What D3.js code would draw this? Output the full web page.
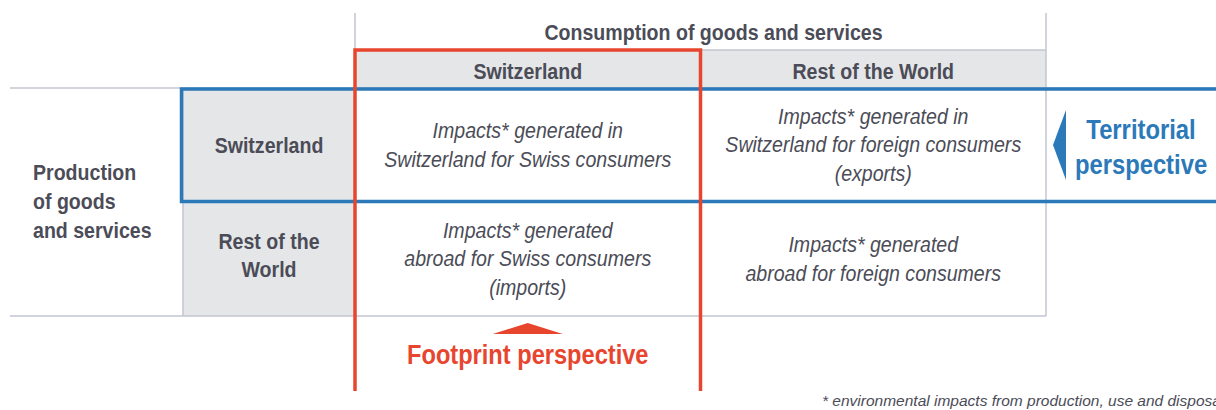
<!DOCTYPE html>
<html>
<head>
<meta charset="utf-8">
<script src="https://cdn.jsdelivr.net/npm/d3@7"></script>
<style>
  body { margin: 0; background: #fff; }
  svg { display: block; }
</style>
</head>
<body>
<script>
// Width and Height
var w = 1216;
var h = 410;

// data
var columns = ["Switzerland", "Rest of the World"];
var rows = ["Switzerland", "Rest of the World"];
var rowLabels = [["Switzerland"], ["Rest of the", "World"]];
var cellLines = [
  [["Impacts* generated in", "Switzerland for Swiss consumers"],
   ["Impacts* generated in", "Switzerland for foreign consumers", "(exports)"]],
  [["Impacts* generated", "abroad for Swiss consumers", "(imports)"],
   ["Impacts* generated", "abroad for foreign consumers"]]
];
var colTitle = "Consumption of goods and services";
var rowTitle = ["Production", "of goods", "and services"];
var territorial = ["Territorial", "perspective"];
var footprint = "Footprint perspective";
var footnote = "* environmental impacts from production, use and disposal";

var textCol = "#4b4c57";
var grey = "#e5e6e8";
var lineCol = "#c3c6d2";
var blue = "#2b79b9";
var red = "#e8452f";
var font = "'Liberation Sans', Arial, sans-serif";
var narrow = 0.89; // the original type is a condensed face

var svg = d3.select("body")
  .append("svg")
  .attr("width", w)
  .attr("height", h)
  .style("font-family", font);

var x = d3.scaleBand().domain(columns).range([355, 1046]);
var y = d3.scaleBand().domain(rows).range([88, 316]);
var headTop = 50;
var rowHeadLeft = 183;
var lh = 28.5;

// grey header cells
svg.append("rect")
  .attr("x", x.range()[0]).attr("y", headTop)
  .attr("width", x.range()[1] - x.range()[0]).attr("height", y.range()[0] - headTop)
  .attr("fill", grey);
svg.append("rect")
  .attr("x", rowHeadLeft).attr("y", y.range()[0])
  .attr("width", x.range()[0] - rowHeadLeft).attr("height", y.range()[1] - y.range()[0])
  .attr("fill", grey);

// thin grey rules
var rules = [
  [x.range()[0], 13, x.range()[0], headTop],
  [x.range()[1], 13, x.range()[1], y.range()[1]],
  [rowHeadLeft, y.range()[0], rowHeadLeft, y.range()[1]],
  [10, y.range()[0], w, y.range()[0]],
  [10, y.range()[1], x.range()[1], y.range()[1]],
  [x.range()[0], headTop, x.range()[1], headTop]
];
svg.selectAll("line.rule")
  .data(rules)
  .enter()
  .append("line")
  .attr("class", "rule")
  .attr("x1", function(d) { return d[0]; })
  .attr("y1", function(d) { return d[1]; })
  .attr("x2", function(d) { return d[2]; })
  .attr("y2", function(d) { return d[3]; })
  .attr("stroke", lineCol)
  .attr("stroke-width", 1.5);

// helper for multi-line centred text (squeezed horizontally)
function lines(arr, cx, cy, size, opts) {
  var g = svg.append("g")
    .attr("transform", "translate(" + cx + ",0) scale(" + (opts.sx || narrow) + ",1)");
  var t = g.append("text")
    .attr("text-anchor", opts.anchor || "middle")
    .attr("font-size", size + "px")
    .attr("font-weight", opts.weight || "normal")
    .attr("font-style", opts.style || "normal")
    .attr("fill", opts.fill || textCol);
  var first = cy - (arr.length - 1) * opts.lh / 2;
  arr.forEach(function(s, i) {
    t.append("tspan")
      .attr("x", 0)
      .attr("y", first + i * opts.lh)
      .attr("dy", "0.36em")
      .text(s);
  });
  return t;
}

// titles
lines([colTitle], (x.range()[0] + x.range()[1]) / 2 + 13, 32, 22, {weight: "bold", lh: lh});
lines(rowTitle, 33, 201, 22, {weight: "bold", lh: 29, anchor: "start"});

// column headers
columns.forEach(function(c) {
  lines([c], x(c) + x.bandwidth() / 2, 71, 22, {weight: "bold", lh: lh});
});

// row headers
rows.forEach(function(r, i) {
  lines(rowLabels[i], (rowHeadLeft + x.range()[0]) / 2, y(r) + y.bandwidth() / 2 + (i === 1 ? -4 : 0), 22, {weight: "bold", lh: lh});
});

// cells
rows.forEach(function(r, i) {
  columns.forEach(function(c, j) {
    lines(cellLines[i][j], x(c) + x.bandwidth() / 2, y(r) + y.bandwidth() / 2 - 0.5, 22, {style: "italic", lh: lh});
  });
});

// blue territorial box
svg.append("rect")
  .attr("x", 181.5).attr("y", y("Switzerland") + 1)
  .attr("width", w + 20 - 181.5).attr("height", y.bandwidth() - 1.5)
  .attr("fill", "none")
  .attr("stroke", blue)
  .attr("stroke-width", 3.5);

// red footprint frame (open at the bottom)
var fl = x("Switzerland"), fr = fl + x.bandwidth();
svg.append("path")
  .attr("d", "M" + fl + ",391 L" + fl + "," + headTop + " L" + fr + "," + headTop + " L" + fr + ",391")
  .attr("fill", "none")
  .attr("stroke", red)
  .attr("stroke-width", 3.5);

// blue arrow + label
svg.append("path")
  .attr("d", "M1053,145 L1066,110 L1066,180 Z")
  .attr("fill", blue);
lines(territorial, 1141, 146, 28, {weight: "bold", fill: blue, lh: 35, sx: 0.85});

// red arrow + label
var fx = fl + x.bandwidth() / 2;
svg.append("path")
  .attr("d", "M" + (fx - 35) + ",334 L" + fx + ",323 L" + (fx + 35) + ",334 Z")
  .attr("fill", red);
lines([footprint], fx, 354, 27, {weight: "bold", fill: red, lh: lh, sx: 0.875});

// footnote (runs off the right edge, as in the original)
svg.append("text")
  .attr("x", 822)
  .attr("y", 406)
  .attr("font-size", "15.5px")
  .attr("font-style", "italic")
  .attr("fill", textCol)
  .text(footnote);
</script>
</body>
</html>
